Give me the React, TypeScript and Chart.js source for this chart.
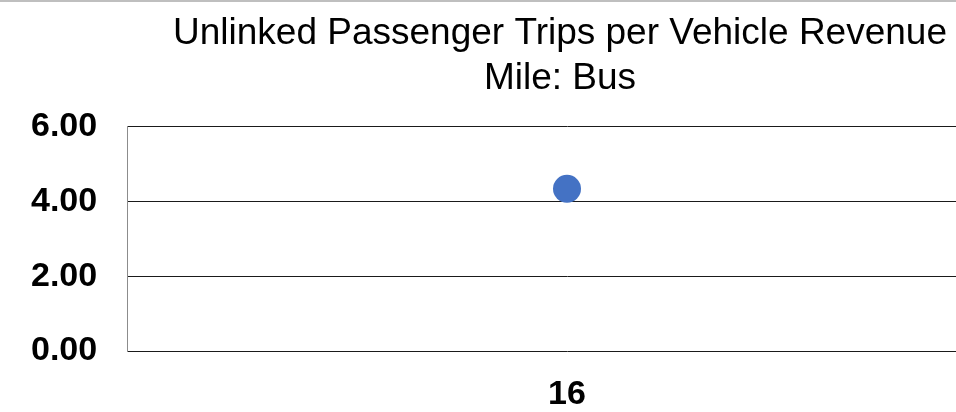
import React, { useEffect, useRef } from "react";
import { Chart, registerables } from "chart.js";

Chart.register(...registerables);

const categories = ["16"];
const seriesValues = [4.34];
const titleLines = ["Unlinked Passenger Trips per Vehicle Revenue", "Mile: Bus"];
const yTicks = [0, 2, 4, 6];

const FONT = "'Liberation Sans', Arial, sans-serif";

export default function App() {
  const ref = useRef<HTMLCanvasElement | null>(null);

  useEffect(() => {
    if (!ref.current) return;
    const chart = new Chart(ref.current, {
      type: "line",
      data: {
        labels: categories,
        datasets: [
          {
            label: "Bus",
            data: seriesValues,
            showLine: false,
            pointRadius: 14,
            pointHoverRadius: 14,
            pointBackgroundColor: "#4472C4",
            pointBorderColor: "#4472C4",
            pointBorderWidth: 0,
            borderColor: "#4472C4",
            backgroundColor: "#4472C4",
          },
        ],
      },
      options: {
        responsive: false,
        animation: false,
        devicePixelRatio: 1,
        layout: { padding: { left: 113, right: 113, top: 0, bottom: 0 } },
        plugins: {
          legend: { display: false },
          tooltip: { enabled: false },
          title: {
            display: true,
            text: titleLines,
            color: "#000",
            font: { family: FONT, size: 37, weight: "normal" },
            padding: { top: 12, bottom: 26 },
          },
        },
        scales: {
          x: {
            type: "category",
            offset: true,
            grid: { display: false, drawTicks: false },
            border: { display: false },
            ticks: {
              color: "#000",
              font: { family: FONT, size: 34, weight: "bold" },
              padding: 23,
              maxRotation: 0,
            },
            afterFit: (scale: any) => {
              scale.height = 61;
            },
          },
          y: {
            min: 0,
            max: 6,
            afterBuildTicks: (scale: any) => {
              scale.ticks = yTicks.map((v) => ({ value: v }));
            },
            grid: { color: "#1a1a1a", lineWidth: 1, drawTicks: false },
            border: { display: true, color: "#8c8c8c", width: 1 },
            ticks: {
              color: "#000",
              font: { family: FONT, size: 34, weight: "bold" },
              mirror: true,
              crossAlign: "near",
              padding: -96,
              callback: (v: any) => Number(v).toFixed(2),
            },
            afterFit: (scale: any) => {
              scale.width = 14;
            },
          },
        },
      },
    });
    return () => chart.destroy();
  }, []);

  return (
    <div
      style={{
        position: "fixed",
        left: 0,
        top: 0,
        width: 956,
        height: 412,
        overflow: "hidden",
        background: "#fff",
      }}
    >
      <canvas
        ref={ref}
        width={1120}
        height={412}
        style={{ display: "block", width: 1120, height: 412 }}
      />
      <div
        style={{
          position: "absolute",
          left: 0,
          top: 0,
          width: 956,
          height: 2,
          background: "#bfbfbf",
        }}
      />
    </div>
  );
}
